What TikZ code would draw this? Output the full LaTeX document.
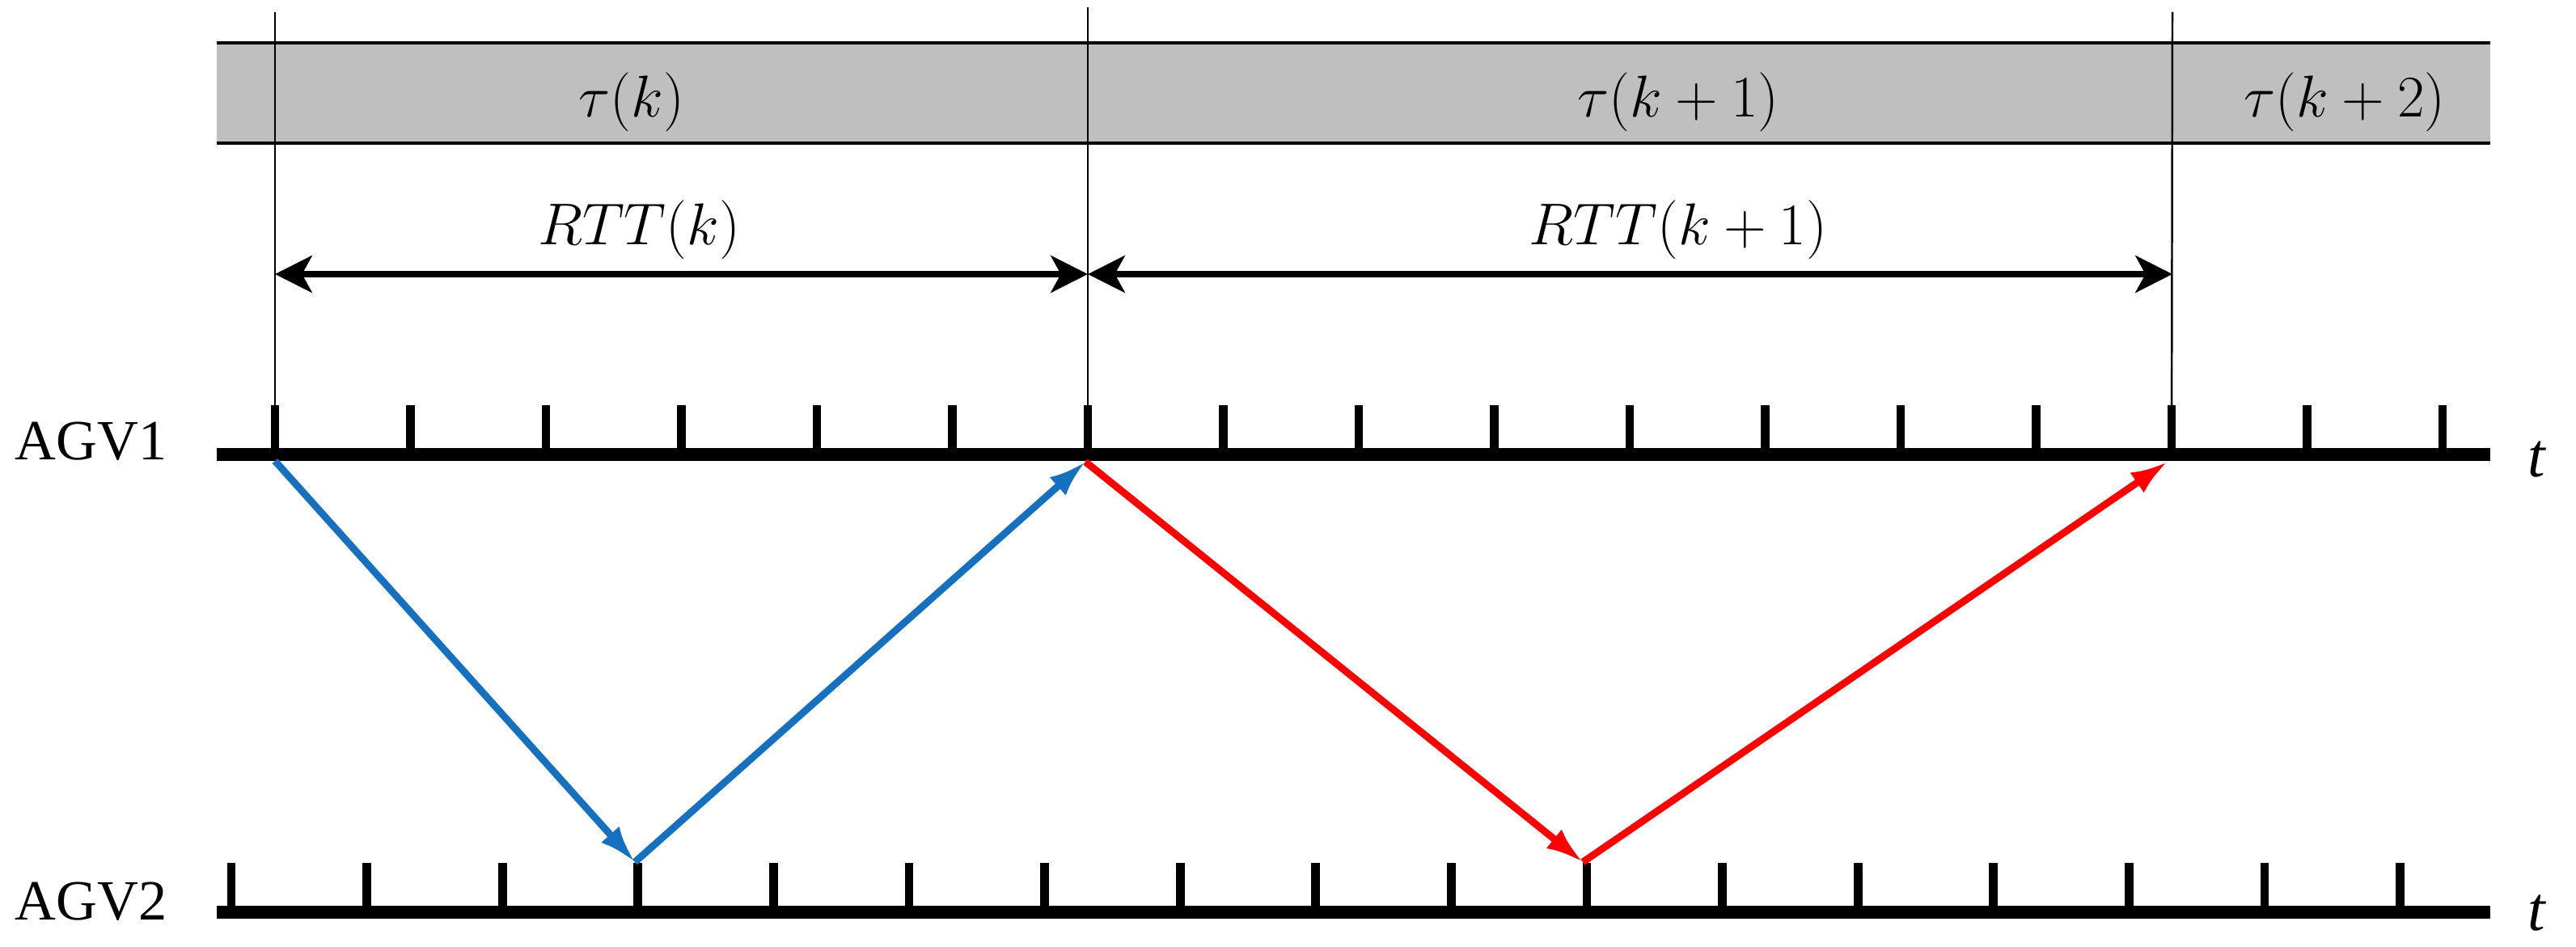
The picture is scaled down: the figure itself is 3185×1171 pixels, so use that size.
\documentclass[tikz,border=0pt]{standalone}
\usepackage[no-math]{fontspec}
\setmainfont{Liberation Serif}
\usetikzlibrary{arrows.meta}
\definecolor{bandgray}{RGB}{191,191,191}
\definecolor{msgblue}{RGB}{21,112,192}
\definecolor{msgred}{RGB}{255,0,0}
\begin{document}
\begin{tikzpicture}[x=0.01cm,y=-0.01cm,
  axisline/.style={line width=4.8pt},
  tickmark/.style={line width=3.1pt},
  guide/.style={line width=0.7pt},
  bandedge/.style={line width=1.3pt},
  dimarrow/.style={line width=2.2pt,{Stealth[length=13pt,width=13pt,inset=3.5pt]}-{Stealth[length=13pt,width=13pt,inset=3.5pt]}},
  msg/.style={line width=2.5pt,-{Latex[length=13pt,width=8.5pt]}},
  lbl/.style={font=\fontsize{20}{24}\selectfont, inner sep=0pt},
  mathlbl/.style={font=\fontsize{22}{26}\selectfont, inner sep=0pt}]
\useasboundingbox (0,0) rectangle (3185,1171);

% band
\fill[bandgray] (268,53) rectangle (3079,177);
\draw[bandedge] (268,53) -- (3079,53);
\draw[bandedge] (268,177) -- (3079,177);

% axes
\draw[axisline] (268,562) -- (3079,562);
\draw[axisline] (268,1128) -- (3079,1128);

% ticks
\foreach \i in {0,...,16} {
  \coordinate (a\i) at ({340+167.5*\i},562);
  \coordinate (b\i) at ({286+167.6*\i},1128);
  \draw[tickmark] (a\i) -- ++(0,-61);
  \draw[tickmark] (b\i) -- ++(0,-61);
}

% guide lines
\coordinate (g0) at (340,15);
\coordinate (g6) at (1345,9);
\coordinate (g14) at (2686,15);
\draw[guide] (g0) -- (a0);
\draw[guide] (g6) -- (a6);
\draw[guide] (g14) -- (a14);

% dimension arrows
\coordinate (d0) at (340,339);
\coordinate (d6) at (1345,339);
\coordinate (d14) at (2686,339);
\draw[dimarrow] (d0) -- (d6);
\draw[dimarrow] (d6) -- (d14);

% message arrows
\coordinate (a0b) at (340,570);
\coordinate (a6b) at (1342,571);
\coordinate (a14b) at (2680,571);
\coordinate (b3t) at (785,1066);
\coordinate (b10t) at (1957,1066);
\draw[msg, msgblue] (a0b) -- (b3t);
\draw[msg, msgblue] (b3t) -- (a6b);
\draw[msg, msgred] (a6b) -- (b10t);
\draw[msg, msgred] (b10t) -- (a14b);

% labels
\node[mathlbl] (tau0) at (781,126) {$\tau(k)$};
\node[mathlbl] (tau1) at (2075,126) {$\tau(k+1)$};
\node[mathlbl] (tau2) at (2899,126) {$\tau(k+2)$};
\node[mathlbl] (rtt0) at (790,284) {$RTT(k)$};
\node[mathlbl] (rtt1) at (2075,284) {$RTT(k+1)$};
\node[lbl, anchor=base west] (agv1) at (18,569) {AGV1};
\node[lbl, anchor=base west] (agv2) at (18,1137) {AGV2};
\node[lbl, anchor=base west, font=\fontsize{22}{26}\selectfont\itshape] (t1) at (3125,590) {t};
\node[lbl, anchor=base west, font=\fontsize{22}{26}\selectfont\itshape] (t2) at (3125,1150) {t};
\end{tikzpicture}
\end{document}
